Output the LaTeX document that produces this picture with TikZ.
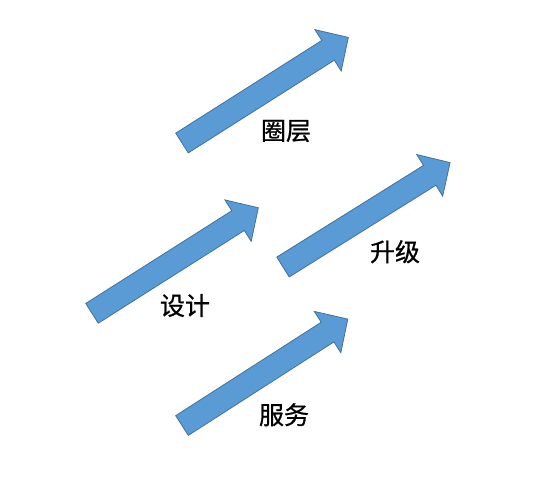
\documentclass[tikz,border=0pt]{standalone}
\usepackage{fontspec}
\usepackage{xcolor}
\usepackage{tikz}
\usetikzlibrary{positioning}
\newfontfamily\cjk[FakeBold=0.8]{Noto Sans CJK SC}
\definecolor{ArrowBlue}{HTML}{5B9BD5}
\definecolor{ArrowEdge}{HTML}{41719C}
\tikzset{
  blockarrow/.pic={
    \draw[arrowbody] (0,-11.7) -- (173,-11.7) -- (173,-24.5) -- (197,0)
      -- (173,24.5) -- (173,11.7) -- (0,11.7) -- cycle;
  },
  arrowbody/.style={fill=ArrowBlue,draw=ArrowEdge,line width=0.8pt,line join=miter},
  tag/.style={font=\cjk\fontsize{25}{25}\selectfont,text=black,inner sep=0pt}
}

\begin{document}
\begin{tikzpicture}[x=1pt,y=-1pt]
  \useasboundingbox (0,0) rectangle (553,483);
  \pic (quan) [rotate=32.4] at (182,143) {blockarrow};
  \pic (sheji) [rotate=32.4] at (92,313.3) {blockarrow};
  \pic (shengji) [rotate=32.0] at (283,267) {blockarrow};
  \pic (fuwu) [rotate=32.7] at (182,425.5) {blockarrow};
  \node[tag] (lquan) at (286,131) {圈层};
  \node[tag] (lsheji) at (185,305.5) {设计};
  \node[tag] (lshengji) at (395,251.7) {升级};
  \node[tag] (lfuwu) at (284,414.7) {服务};
\end{tikzpicture}
\end{document}
